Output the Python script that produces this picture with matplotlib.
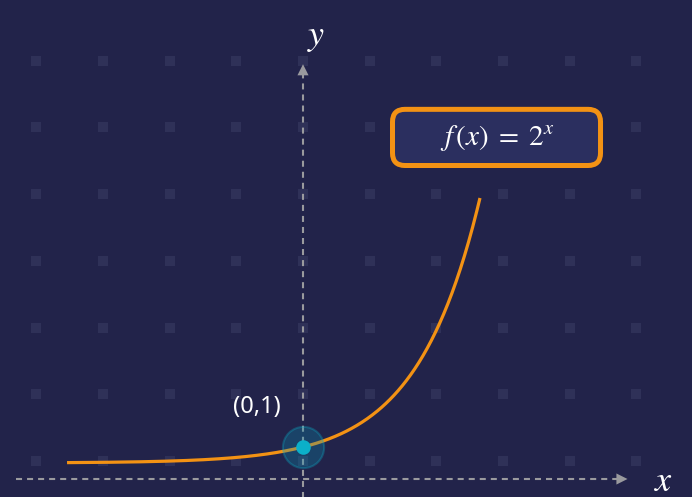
import numpy as np
import matplotlib
matplotlib.use("Agg")
import matplotlib.pyplot as plt
from matplotlib.patches import FancyBboxPatch

# --- data ---
BASE = 2.0
X_START, X_END = -5.4, 4.05          # visible range of the curve
POINT = (0.0, 1.0)                   # marked point
POINT_LABEL = "(0,1)"
FUNC_LABEL = r"$f\,(x)\;=\;2^{x}$"

# --- colours ---
BG = "#22234a"
DOT = "#2f3158"
ORANGE = "#f39214"
AXIS = "#9a9a9e"
CYAN = "#0bb0c9"

plt.rcParams["mathtext.fontset"] = "stix"

fig = plt.figure(figsize=(6.92, 4.97), dpi=100, facecolor=BG)
ax = fig.add_axes([0, 0, 1, 1])
ax.set_facecolor(BG)
ax.set_xlim(-6.934, 8.902)
ax.set_ylim(-2.125, 28.94)
ax.axis("off")

# background grid of small squares
gx = np.arange(-4, 6) * 1.526
gy = 0.125 + np.arange(0, 7) * 4.17
GX, GY = np.meshgrid(gx, gy)
ax.scatter(GX.ravel(), GY.ravel(), marker="s", s=50, color=DOT, lw=0, zorder=1)

# dashed axes with arrow heads
ax_y = -1.0
ax.plot([-6.57, 7.3], [ax_y, ax_y], color=AXIS, lw=1.5, dashes=(2.9, 2.4), zorder=2)
ax.annotate("", xy=(7.49, ax_y), xytext=(7.0, ax_y),
            arrowprops=dict(arrowstyle="-|>", mutation_scale=20, color=AXIS, lw=0),
            zorder=2)
ax.plot([0, 0], [-2.2, 24.3], color=AXIS, lw=1.5, dashes=(2.9, 2.4), zorder=2)
ax.annotate("", xy=(0, 25.1), xytext=(0, 23.5),
            arrowprops=dict(arrowstyle="-|>", mutation_scale=20, color=AXIS, lw=0),
            zorder=2)
ax.text(8.25, ax_y - 0.1, r"$x$", color="white", fontsize=26, ha="center", va="center")
ax.text(0.3, 26.6, r"$y$", color="white", fontsize=26, ha="center", va="center")

# the curve
xs = np.linspace(X_START, X_END, 400)
ax.plot(xs, BASE ** xs, color=ORANGE, lw=2.3, solid_capstyle="butt", zorder=3)

# marked point with halo
ax.scatter([POINT[0]], [POINT[1]], s=880, color="#0a8fb0", alpha=0.3,
           edgecolor=CYAN, linewidth=1.5, zorder=4)
ax.scatter([POINT[0]], [POINT[1]], s=110, color=CYAN, lw=0, zorder=5)
ax.text(POINT[0] - 1.05, POINT[1] + 2.5, POINT_LABEL, color="white",
        fontsize=17, family="Noto Sans", ha="center", va="center", zorder=5)

# label box
box = FancyBboxPatch((0.5672, 0.667), 0.3006, 0.113,
                     boxstyle="round,pad=0,rounding_size=0.018",
                     mutation_aspect=692 / 497, transform=ax.transAxes,
                     facecolor="#2b2f5f", edgecolor=ORANGE, lw=3.6, zorder=6)
ax.add_patch(box)
ax.text(0.718, 0.723, FUNC_LABEL, transform=ax.transAxes, color="white",
        fontsize=21, ha="center", va="center", zorder=7)

fig.savefig("out.png", dpi=100, facecolor=BG)
